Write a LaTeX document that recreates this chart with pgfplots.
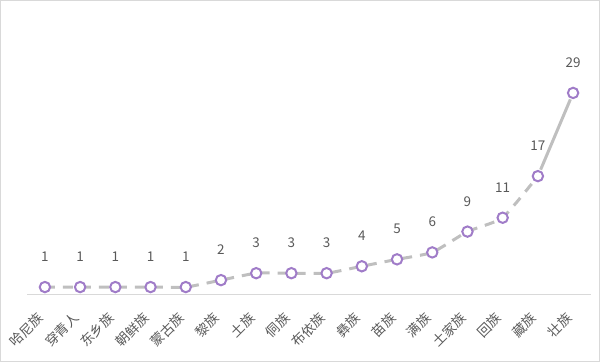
\documentclass[border=0pt]{standalone}
\usepackage{pgfplots}
\pgfplotsset{compat=1.18}
\usepackage{fontspec}
\setmainfont{Noto Sans CJK SC}
\definecolor{linegray}{HTML}{BFBFBF}
\definecolor{mkpurple}{HTML}{A07CC8}
\definecolor{txtgray}{HTML}{595959}
\definecolor{framegray}{HTML}{D9D9D9}
\begin{document}
\begin{tikzpicture}[x=1bp,y=1bp]
\draw[framegray, line width=0.8bp] (0.5,0.5) rectangle (599.5,361.5);
\begin{axis}[
  at={(27.4bp,68bp)}, anchor=south west,
  scale only axis, width=563.2bp, height=242.6bp,
  xmin=-0.5, xmax=15.5, ymin=0, ymax=35,
  axis x line=bottom, hide y axis,
  /pgf/number format/assume math mode=true,
  x axis line style={draw=framegray, line width=0.8bp, -},
  xtick={0,...,15}, major tick length=0pt,
  xticklabels={哈尼族,穿青人,东乡族,朝鲜族,蒙古族,黎族,土族,侗族,布依族,彝族,苗族,满族,土家族,回族,藏族,壮族},
  xticklabel style={rotate=45, anchor=north east, font=\fontsize{13.5}{15}\selectfont, text=txtgray, inner sep=1bp, yshift=-5bp, xshift=-17bp},
  clip=false,
  nodes near coords,
  every node near coord/.append style={font=\fontsize{13.5}{15}\selectfont, text=txtgray, yshift=21bp},
]
\addplot[linegray, line width=3bp, smooth, tension=0.3, dash pattern=on 10bp off 8bp, no markers, nodes near coords={}] coordinates {
(0,1) (1,1) (2,1) (3,1) (4,1) (5,2) (6,3) (7,3) (8,3) (9,4) (10,5) (11,6) (12,9) (13,11) (14,17)
};
\addplot[linegray, line width=3bp, no markers, nodes near coords={}, shorten <=7bp, shorten >=7bp] coordinates {
(14,17) (15,29)
};
\addplot[only marks, mark=*, mark size=5.2bp, mark options={draw=mkpurple, fill=white, line width=2bp}] coordinates {
(0,1) (1,1) (2,1) (3,1) (4,1) (5,2) (6,3) (7,3) (8,3) (9,4) (10,5) (11,6) (12,9) (13,11) (14,17) (15,29)
};
\end{axis}
\end{tikzpicture}
\end{document}
